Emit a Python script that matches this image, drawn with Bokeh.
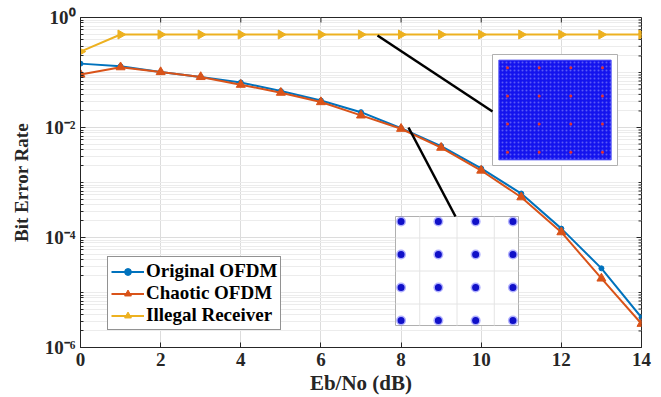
import numpy as np
from bokeh.plotting import figure
from bokeh.models import (Range1d, LinearScale, FixedTicker, CustomJSTickFormatter,
                          Legend, LegendItem)
from bokeh.embed import file_html
from bokeh.resources import INLINE

# ---------------- data ----------------
snr_db = [0, 1, 2, 3, 4, 5, 6, 7, 8, 9, 10, 11, 12, 13, 14]
ber_original = [0.145, 0.13, 0.102, 0.083, 0.066, 0.046, 0.031, 0.019, 0.0097,
                0.0046, 0.0018, 6.3e-4, 1.45e-4, 2.75e-5, 3.5e-6]
ber_chaotic = [0.092, 0.125, 0.102, 0.083, 0.06, 0.043, 0.029, 0.0166, 0.0095,
               0.0043, 0.00165, 5.4e-4, 1.25e-4, 1.8e-5, 2.7e-6]
ber_illegal = [0.24, 0.49, 0.49, 0.49, 0.49, 0.49, 0.49, 0.49, 0.49,
               0.49, 0.49, 0.49, 0.49, 0.49, 0.49]
series_labels = ["Original OFDM", "Chaotic OFDM", "Illegal Receiver"]

x_ticks = [0, 2, 4, 6, 8, 10, 12, 14]
y_ticks = [1e-6, 1e-4, 1e-2, 1e0]

# 16-QAM constellation levels (for the insets)
qam_levels = [-3, -1, 1, 3]
inset1_cloud_half = 3.55     # extent of the noisy cloud (illegal receiver)

# ---------------- styles ----------------
C_BLUE, C_ORANGE, C_YELLOW = "#0072BD", "#D95319", "#EDB120"
FONT = "Liberation Serif"
AX = "#262626"

# reference frame geometry (canvas pixels), used to place the insets
FRAME_L, FRAME_R, FRAME_T, FRAME_B = 80, 641, 17, 347
INSET1_BOX = (492, 617, 54, 165)   # left, right, top, bottom
INSET1_LIM = 3.95
INSET2_BOX = (395, 518, 216, 325)
INSET2_LIM = 3.3
LEGEND_POS = (27, 17)              # offset of legend from frame's bottom-left

W, H = 661, 397
p = figure(width=W, height=H, output_backend="svg", toolbar_location=None,
           y_axis_type="log", x_range=Range1d(0, 14), y_range=Range1d(1e-6, 1),
           min_border_left=FRAME_L, min_border_right=W - FRAME_R,
           min_border_top=FRAME_T, min_border_bottom=H - FRAME_B)
p.background_fill_color = "white"
p.border_fill_color = "white"
p.outline_line_color = AX
p.outline_line_width = 1

# extra ranges: pixel space + inset spaces
xr = {"px": Range1d(FRAME_L, FRAME_R)}
yr = {"py": Range1d(FRAME_B, FRAME_T)}
xs = {"px": LinearScale()}
ys = {"py": LinearScale()}


def inset_ranges(name, box, lim):
    l, r, t, b = box
    sx = (r - l) / (2 * lim)
    sy = (b - t) / (2 * lim)
    xr[name + "x"] = Range1d(-lim - (l - FRAME_L) / sx, lim + (FRAME_R - r) / sx)
    yr[name + "y"] = Range1d(-lim - (FRAME_B - b) / sy, lim + (t - FRAME_T) / sy)
    xs[name + "x"] = LinearScale()
    ys[name + "y"] = LinearScale()


inset_ranges("i1", INSET1_BOX, INSET1_LIM)
inset_ranges("i2", INSET2_BOX, INSET2_LIM)
p.extra_x_ranges = xr
p.extra_y_ranges = yr
p.extra_x_scales = xs
p.extra_y_scales = ys

# ---------------- axes ----------------
sup = {"-": "\u207B", "0": "\u2070", "1": "\u00B9", "2": "\u00B2", "3": "\u00B3",
       "4": "\u2074", "5": "\u2075", "6": "\u2076", "7": "\u2077", "8": "\u2078", "9": "\u2079"}
js_sup = "{" + ",".join('"%s":"%s"' % (k, v) for k, v in sup.items()) + "}"
yfmt = CustomJSTickFormatter(code="""
const sup = %s;
const e = Math.round(Math.log10(tick));
return "10" + String(e).split("").map(c => sup[c]).join("");
""" % js_sup)

minor_y = [k * 10.0 ** e for e in range(-6, 0) for k in range(1, 10) if not (k == 1 and e % 2 == 0)]
yticker = FixedTicker(ticks=y_ticks, minor_ticks=minor_y)
xticker = FixedTicker(ticks=x_ticks, minor_ticks=[])

p.xaxis.ticker = xticker
p.yaxis.ticker = yticker
p.yaxis.formatter = yfmt

for ax in (p.xaxis[0], p.yaxis[0]):
    ax.axis_line_color = AX
    ax.major_tick_line_color = AX
    ax.minor_tick_line_color = AX
    ax.major_tick_in = 5
    ax.major_tick_out = 0
    ax.minor_tick_in = 3
    ax.minor_tick_out = 0
    ax.major_label_text_font = FONT
    ax.major_label_text_font_style = "bold"
    ax.major_label_text_font_size = "19px"
    ax.major_label_text_color = AX
    ax.axis_label_text_font = FONT
    ax.axis_label_text_font_style = "bold"
    ax.axis_label_text_color = AX

p.xaxis.axis_label = "Eb/No (dB)"
p.xaxis.axis_label_text_font_size = "21px"
p.yaxis.axis_label = "Bit Error Rate"
p.yaxis.axis_label_text_font_size = "19px"
p.xaxis.major_label_standoff = 5
p.xaxis.axis_label_standoff = 2
p.yaxis.major_label_standoff = 5
p.yaxis.axis_label_standoff = 10

# grids
p.xgrid.ticker = xticker
p.ygrid.ticker = yticker
p.xgrid.grid_line_color = "#dcdcdc"
p.ygrid.grid_line_color = "#dcdcdc"
p.ygrid.minor_grid_line_color = "#ececec"

# mirrored ticks on the top and right edges (box on)
p.segment(x0=x_ticks, x1=x_ticks, y0=[FRAME_T] * len(x_ticks), y1=[FRAME_T + 5] * len(x_ticks),
          line_color=AX, line_width=1, y_range_name="py")
p.segment(x0=[FRAME_R - 5] * len(y_ticks), x1=[FRAME_R] * len(y_ticks), y0=y_ticks, y1=y_ticks,
          line_color=AX, line_width=1, x_range_name="px")
p.segment(x0=[FRAME_R - 3] * len(minor_y), x1=[FRAME_R] * len(minor_y), y0=minor_y, y1=minor_y,
          line_color=AX, line_width=1, x_range_name="px")

# ---------------- curves ----------------
lb = p.line(snr_db, ber_original, line_color=C_BLUE, line_width=2)
mb = p.scatter(snr_db, ber_original, marker="circle", size=5, fill_color=C_BLUE,
               line_color=C_BLUE)
lo = p.line(snr_db, ber_chaotic, line_color=C_ORANGE, line_width=2)
mo = p.scatter(snr_db, ber_chaotic, marker="triangle", size=9, fill_color=C_ORANGE,
               line_color=C_ORANGE)
ly = p.line(snr_db, ber_illegal, line_color=C_YELLOW, line_width=2)
my = p.scatter(snr_db, ber_illegal, marker="triangle", size=9,
               angle=[-np.pi / 2] * len(snr_db),
               fill_color=C_YELLOW, line_color=C_YELLOW)

# ---------------- inset 1 : illegal receiver constellation ----------------
gx, gy = np.meshgrid(qam_levels, qam_levels)
gx, gy = gx.ravel().tolist(), gy.ravel().tolist()

p.quad(left=-INSET1_LIM, right=INSET1_LIM, bottom=-INSET1_LIM, top=INSET1_LIM,
       fill_color="white", line_color="#b0b0b0", line_width=1,
       x_range_name="i1x", y_range_name="i1y")
p.quad(left=-inset1_cloud_half, right=inset1_cloud_half, bottom=-inset1_cloud_half,
       top=inset1_cloud_half, fill_color="#1414ee", line_color="#5a5af5", line_width=1,
       hatch_pattern="dot", hatch_color="#b0b0ff", hatch_alpha=0.45, hatch_scale=4,
       x_range_name="i1x", y_range_name="i1y")
p.scatter(gx, gy, marker="circle", size=3, fill_color="#e03030", line_color=None,
          x_range_name="i1x", y_range_name="i1y")

# ---------------- inset 2 : legal receiver constellation ----------------
p.quad(left=-INSET2_LIM, right=INSET2_LIM, bottom=-INSET2_LIM, top=INSET2_LIM,
       fill_color="white", line_color="#b0b0b0", line_width=1,
       x_range_name="i2x", y_range_name="i2y")
inner = [-2, 0, 2]
p.segment(x0=inner, x1=inner, y0=[-INSET2_LIM] * 3, y1=[INSET2_LIM] * 3,
          line_color="#e4e4e4", line_width=1, x_range_name="i2x", y_range_name="i2y")
p.segment(x0=[-INSET2_LIM] * 3, x1=[INSET2_LIM] * 3, y0=inner, y1=inner,
          line_color="#e4e4e4", line_width=1, x_range_name="i2x", y_range_name="i2y")
p.scatter(gx, gy, marker="circle", size=10, fill_color="#5050ff", fill_alpha=0.45,
          line_color=None, x_range_name="i2x", y_range_name="i2y")
p.scatter(gx, gy, marker="circle", size=7, fill_color="#1010c8", line_color=None,
          x_range_name="i2x", y_range_name="i2y")

# ---------------- connector lines (annotation anchors in canvas pixels) ----------------
conn_x0, conn_y0 = [377, 408], [35, 127]
conn_x1, conn_y1 = [492, 455], [111, 216]
p.segment(conn_x0, conn_y0, conn_x1, conn_y1, line_color="black", line_width=2.5,
          x_range_name="px", y_range_name="py")

# ---------------- legend ----------------
legend = Legend(items=[LegendItem(label=series_labels[0], renderers=[lb, mb], index=0),
                       LegendItem(label=series_labels[1], renderers=[lo, mo], index=0),
                       LegendItem(label=series_labels[2], renderers=[ly, my], index=0)],
                location=LEGEND_POS)
legend.label_text_font = FONT
legend.label_text_font_style = "bold"
legend.label_text_font_size = "19px"
legend.label_text_color = "black"
legend.label_standoff = 2
legend.label_height = 17
legend.glyph_width = 33
legend.glyph_height = 17
legend.spacing = 0
legend.padding = 3
legend.margin = 0
legend.border_line_color = AX
legend.border_line_width = 1
legend.background_fill_alpha = 1
p.add_layout(legend)

open("out.html", "w").write(file_html(p, INLINE))
